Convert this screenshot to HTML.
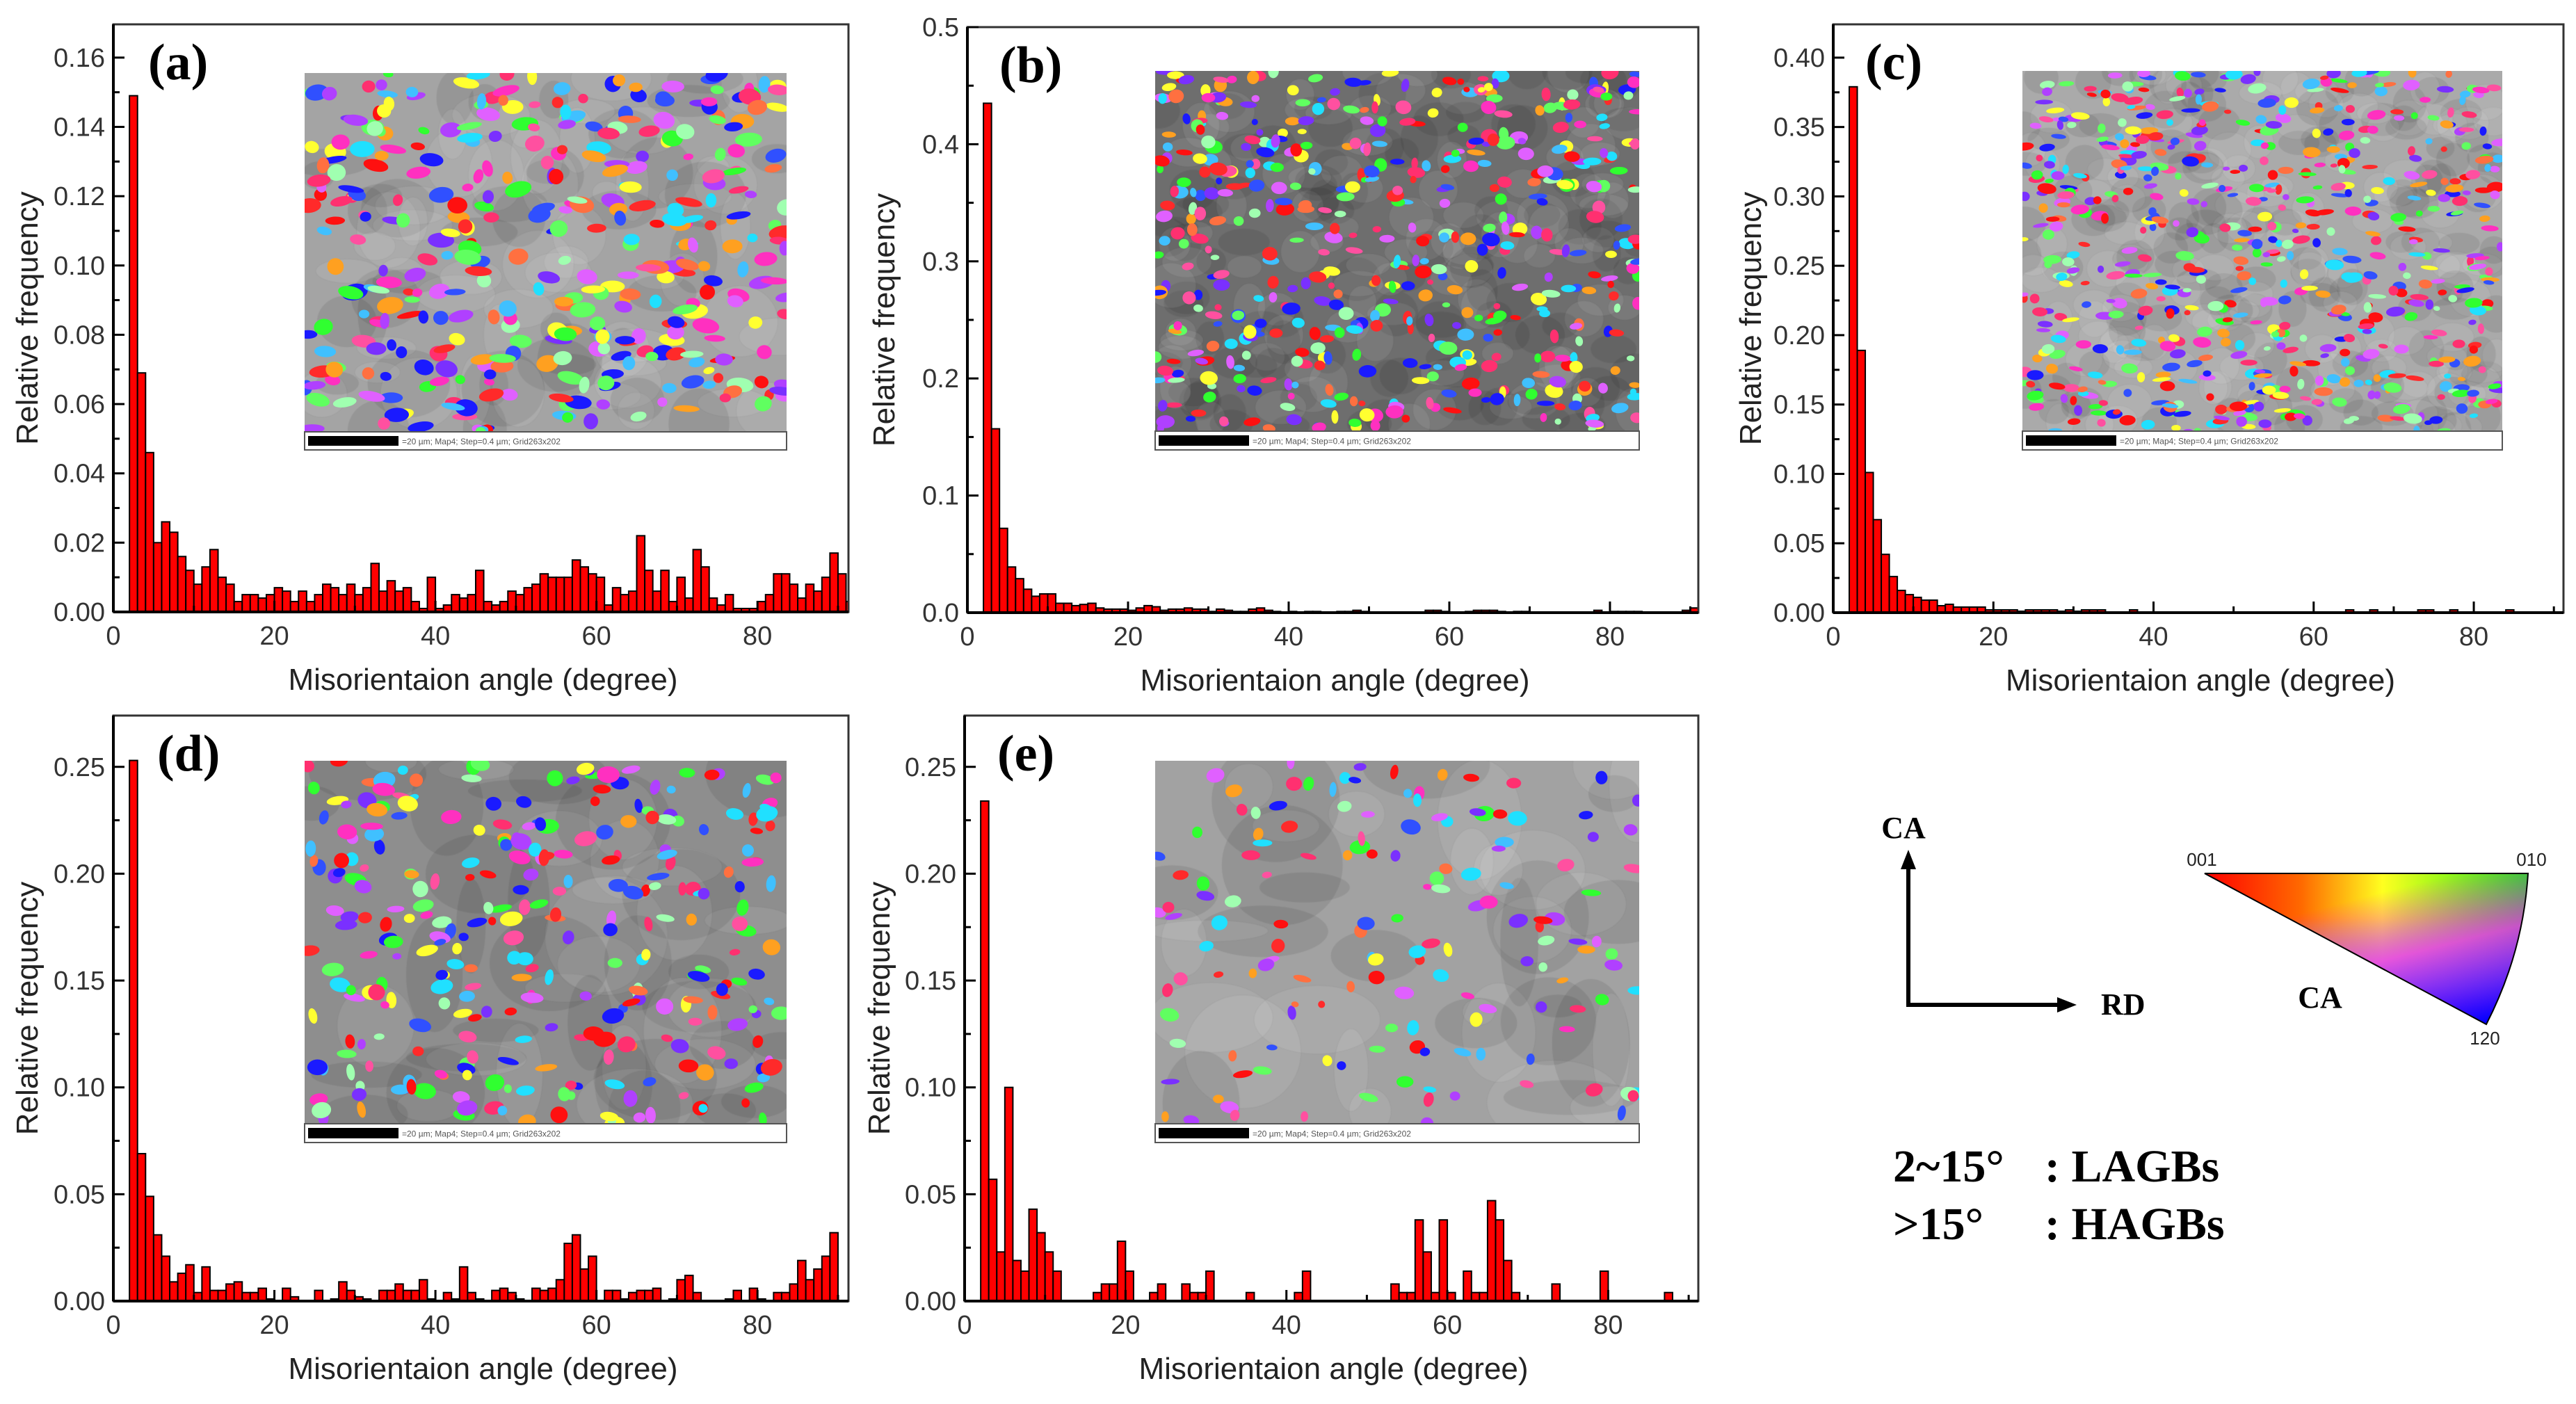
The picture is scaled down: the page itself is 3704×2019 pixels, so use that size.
<!DOCTYPE html>
<html><head><meta charset="utf-8"><style>
html,body{margin:0;padding:0;background:#fff;}
svg{display:block;}
</style></head><body>
<svg id="fig" width="3704" height="2019" viewBox="0 0 3704 2019" xmlns="http://www.w3.org/2000/svg">
<defs>
<linearGradient id="triBase" x1="0" y1="0" x2="1" y2="0">
<stop offset="0" stop-color="#ff0000"/><stop offset="0.3" stop-color="#ff6a00"/><stop offset="0.55" stop-color="#ffff20"/><stop offset="1" stop-color="#10f010"/>
</linearGradient>
<linearGradient id="triOver" x1="0.3" y1="0" x2="0.85" y2="1">
<stop offset="0.2" stop-color="#ff00ff" stop-opacity="0"/><stop offset="0.55" stop-color="#ff20ff" stop-opacity="0.75"/><stop offset="1" stop-color="#0000ff" stop-opacity="1"/>
</linearGradient>
<linearGradient id="triCyan" x1="0" y1="0" x2="0" y2="1">
<stop offset="0.3" stop-color="#00ffff" stop-opacity="0"/><stop offset="0.75" stop-color="#00e0ff" stop-opacity="0.6"/><stop offset="1" stop-color="#0000ff" stop-opacity="0.9"/>
</linearGradient>
</defs>
<g id="panels"></g>
<g id="legend">
<text x="2737" y="1205" font-family="Liberation Serif, serif" font-weight="bold" font-size="44" text-anchor="middle">CA</text>
<line x1="2744" y1="1445" x2="2744" y2="1240" stroke="#000" stroke-width="6"/>
<polygon points="2744,1222 2733,1250 2755,1250" fill="#000"/>
<line x1="2741" y1="1445" x2="2966" y2="1445" stroke="#000" stroke-width="6"/>
<polygon points="2986,1445 2958,1434 2958,1456" fill="#000"/>
<text x="3021" y="1459" font-family="Liberation Serif, serif" font-weight="bold" font-size="44">RD</text>
<g>
<path d="M3170,1256 L3635,1256 Q3628,1370 3575,1473 Z" fill="url(#triBase)"/>
<path d="M3170,1256 L3635,1256 Q3628,1370 3575,1473 Z" fill="url(#triCyan)"/>
<path d="M3170,1256 L3635,1256 Q3628,1370 3575,1473 Z" fill="url(#triOver)"/>
<path d="M3170,1256 L3635,1256 Q3628,1370 3575,1473 Z" fill="none" stroke="#000" stroke-width="2"/>
</g>
<text x="3166" y="1245" font-family="Liberation Sans, sans-serif" font-size="26" text-anchor="middle" fill="#222">001</text>
<text x="3640" y="1245" font-family="Liberation Sans, sans-serif" font-size="26" text-anchor="middle" fill="#222">010</text>
<text x="3573" y="1502" font-family="Liberation Sans, sans-serif" font-size="26" text-anchor="middle" fill="#222">120</text>
<text x="3336" y="1449" font-family="Liberation Serif, serif" font-weight="bold" font-size="44" text-anchor="middle">CA</text>
<text x="2722" y="1699" font-family="Liberation Serif, serif" font-weight="bold" font-size="66">2~15°</text>
<text x="2940" y="1699" font-family="Liberation Serif, serif" font-weight="bold" font-size="66">: LAGBs</text>
<text x="2722" y="1782" font-family="Liberation Serif, serif" font-weight="bold" font-size="66">&gt;15°</text>
<text x="2940" y="1782" font-family="Liberation Serif, serif" font-weight="bold" font-size="66">: HAGBs</text>
</g>
</svg>
<script>
// Relative frequency per 1-degree bin, bins start at 2 deg (2..91)
const binStart = 2;
const xTicks = [0, 20, 40, 60, 80];
const freqA = [0.149,0.069,0.046,0.020,0.026,0.023,0.016,0.012,0.008,0.013,
0.018,0.010,0.008,0.003,0.005,0.005,0.004,0.005,0.007,0.006,
0.003,0.006,0.003,0.005,0.008,0.007,0.005,0.008,0.005,0.007,
0.014,0.006,0.009,0.006,0.007,0.003,0.001,0.010,0.001,0.002,
0.005,0.004,0.005,0.012,0.003,0.002,0.003,0.006,0.005,0.007,
0.008,0.011,0.010,0.010,0.010,0.015,0.013,0.011,0.010,0.002,
0.007,0.005,0.006,0.022,0.012,0.006,0.012,0.003,0.010,0.004,
0.018,0.013,0.004,0.002,0.005,0.001,0.001,0.001,0.003,0.005,
0.011,0.011,0.008,0.004,0.008,0.006,0.010,0.017,0.011,0.003];
const freqB = [0.435,0.157,0.072,0.039,0.029,0.020,0.014,0.016,0.016,0.008,
0.008,0.006,0.007,0.008,0.004,0.003,0.003,0.003,0.002,0.004,
0.006,0.005,0.002,0.003,0.003,0.004,0.003,0.003,0.001,0.003,
0.002,0.001,0.001,0.003,0.004,0.002,0.001,0,0.001,0,
0.001,0.001,0,0,0.001,0.001,0.002,0.001,0,0,
0,0,0,0,0,0.002,0.002,0.001,0,0,
0.001,0.002,0.002,0.002,0.001,0,0.001,0.001,0,0,
0,0,0,0,0,0,0.002,0,0.001,0.001,
0.001,0.001,0,0,0,0,0,0.002,0.004,0];
const freqC = [0.379,0.189,0.101,0.067,0.042,0.026,0.016,0.013,0.011,0.009,
0.009,0.005,0.006,0.004,0.004,0.004,0.004,0.002,0.002,0.002,
0.002,0.001,0.002,0.002,0.002,0.002,0.001,0.002,0.001,0.002,
0.002,0.002,0,0,0,0.002,0,0,0,0,
0,0,0,0,0,0,0,0,0,0,
0,0,0,0,0,0,0,0,0,0,
0,0,0.002,0,0,0.002,0,0,0,0,
0,0.002,0.002,0,0,0.002,0,0,0,0,
0,0,0.002,0,0,0,0,0,0,0];
const freqD = [0.253,0.069,0.049,0.031,0.021,0.009,0.013,0.017,0.004,0.016,
0.005,0.005,0.008,0.009,0.004,0.004,0.006,0.001,0,0.006,
0.002,0,0,0.005,0,0.001,0.009,0.005,0.002,0.001,
0,0.005,0.005,0.008,0.005,0.005,0.010,0.001,0,0.004,
0.001,0.016,0.004,0.001,0,0.005,0.006,0.004,0.001,0,
0.006,0.005,0.006,0.010,0.027,0.031,0.015,0.021,0,0.005,
0.005,0.001,0.004,0.005,0.005,0.006,0,0.001,0.010,0.012,
0.004,0,0,0,0.001,0.005,0,0.006,0.001,0,
0.004,0.004,0.008,0.019,0.010,0.015,0.021,0.032,0,0];
const freqE = [0.234,0.057,0.023,0.100,0.019,0.014,0.043,0.032,0.023,0.014,
0,0,0,0,0.004,0.008,0.008,0.028,0.014,0,
0,0.004,0.008,0,0,0.008,0.004,0.004,0.014,0,
0,0,0,0.004,0,0,0,0,0,0.004,
0.014,0,0,0,0,0,0,0,0,0,
0,0.008,0.004,0.004,0.038,0.023,0.004,0.038,0.004,0,
0.014,0.004,0.004,0.047,0.038,0.019,0.004,0,0,0,
0,0.008,0,0,0,0,0,0.014,0,0,
0,0,0,0,0,0.004,0,0,0,0];
const yTicksA = ["0.00","0.02","0.04","0.06","0.08","0.10","0.12","0.14","0.16"];
const yTicksB = ["0.0","0.1","0.2","0.3","0.4","0.5"];
const yTicksC = ["0.00","0.05","0.10","0.15","0.20","0.25","0.30","0.35","0.40"];
const yTicksD = ["0.00","0.05","0.10","0.15","0.20","0.25"];
const yTicksE = ["0.00","0.05","0.10","0.15","0.20","0.25"];

const NS = "http://www.w3.org/2000/svg";
function mk(parent, tag, attrs, text) {
  const el = document.createElementNS(NS, tag);
  for (const k in attrs) el.setAttribute(k, attrs[k]);
  if (text !== undefined) el.textContent = text;
  parent.appendChild(el);
  return el;
}
let seed = 12345;
function rnd() { seed = (seed * 1103515245 + 12345) % 2147483648; return seed / 2147483648; }
const blobColors = ["#ff1010","#ff2a2a","#1a1aff","#3050ff","#7a30ff","#b040ff","#ff30c0","#ff50a0","#30ff30","#60ff60","#20e0ff","#40c0ff","#ffa020","#ff7040","#ffff30","#e060ff","#ff3070","#a0ffb0"];

function drawPanel(cfg) {
  const root = document.getElementById("panels");
  const g = mk(root, "g", {});
  
  
  const L = cfg.left, R = cfg.right, T = cfg.top, B = cfg.bottom;
  const xmax = cfg.xmax, ymax = cfg.ymax;
  const xs = v => L + (v / xmax) * (R - L);
  const ys = v => B - (v / ymax) * (B - T);
  const ins = cfg.inset;
  const clipId = "clip" + cfg.id;
  const cp = mk(mk(g, "defs", {}), "clipPath", {id: clipId});
  mk(cp, "rect", {x: ins.x, y: ins.y, width: ins.w, height: ins.mh});
  const ig = mk(g, "g", {"clip-path": "url(#" + clipId + ")"});
  
  
  mk(ig, "rect", {x: ins.x, y: ins.y, width: ins.w, height: ins.mh, fill: ins.bg});
  seed = cfg.seed;
  for (let i = 0; i < ins.grains; i++) {
    mk(ig, "ellipse", {cx: ins.x + rnd() * ins.w, cy: ins.y + rnd() * ins.mh, rx: 20 + rnd() * ins.gsize, ry: 15 + rnd() * ins.gsize,
      fill: rnd() < 0.5 ? "#000" : "#fff", opacity: 0.08, stroke: "#333", "stroke-opacity": 0.3, "stroke-width": 2});
  }
  for (let i = 0; i < ins.n; i++) {
    const c = blobColors[Math.floor(rnd() * blobColors.length)];
    const rx = ins.r * (0.5 + rnd()), ry = ins.r * (0.4 + rnd() * 0.7);
    const cx = ins.x + rnd() * ins.w, cy = ins.y + rnd() * ins.mh;
    mk(ig, "ellipse", {cx: cx, cy: cy, rx: rx * (ins.stretchX || 1), ry: ry * (ins.stretchY || 1), fill: c,
      transform: "rotate(" + ((rnd() - 0.5) * (ins.rot || 40)) + " " + cx + " " + cy + ")"});
  }
  const cap = mk(g, "rect", {x: ins.x, y: ins.y + ins.mh, width: ins.w, height: ins.h - ins.mh, fill: "#fff", stroke: "#555", "stroke-width": 2});
  
  
  mk(g, "rect", {x: ins.x + 5, y: ins.y + ins.mh + 6, width: 130, height: ins.h - ins.mh - 12, fill: "#000"});
  mk(g, "text", {x: ins.x + 140, y: ins.y + ins.mh + (ins.h - ins.mh) / 2 + 5, "font-family": "Liberation Sans, sans-serif", "font-size": 12, fill: "#555"}, "=20 µm; Map4; Step=0.4 µm; Grid263x202");
  const bars = mk(g, "g", {});
  
  
  cfg.data.forEach((v, i) => {
    if (v <= 0) return;
    const a0 = binStart + i, a1 = Math.min(binStart + i + 1, xmax);
    if (a0 >= xmax) return;
    const r = mk(bars, "rect", {x: xs(a0), y: ys(v), width: xs(a1) - xs(a0), height: B - ys(v), fill: "#ff0000", stroke: "#000", "stroke-width": 2});
    
    
  });
  const fr = mk(g, "rect", {x: L, y: T, width: R - L, height: B - T, fill: "none", stroke: "#333", "stroke-width": 3});
  
  
  mk(g, "line", {x1: L, y1: B, x2: R, y2: B, stroke: "#000", "stroke-width": 4});
  mk(g, "line", {x1: L, y1: T, x2: L, y2: B, stroke: "#000", "stroke-width": 4});
  const yStep = parseFloat(cfg.yTicks[1]);
  cfg.yTicks.forEach(lbl => {
    const v = parseFloat(lbl), y = ys(v);
    mk(g, "line", {x1: L, y1: y, x2: L + 16, y2: y, stroke: "#000", "stroke-width": 3});
    const m = v + yStep / 2;
    if (m < ymax) mk(g, "line", {x1: L, y1: ys(m), x2: L + 9, y2: ys(m), stroke: "#000", "stroke-width": 3});
    const t = mk(g, "text", {x: L - 12, y: y + 13, "text-anchor": "end", "font-family": "Liberation Sans, sans-serif", "font-size": 38, fill: "#333"}, lbl);
    
    
  });
  xTicks.forEach(v => {
    const x = xs(v);
    mk(g, "line", {x1: x, y1: B, x2: x, y2: B - 16, stroke: "#000", "stroke-width": 3});
    if (v + 10 < xmax) mk(g, "line", {x1: xs(v + 10), y1: B, x2: xs(v + 10), y2: B - 9, stroke: "#000", "stroke-width": 3});
    const t = mk(g, "text", {x: x, y: B + 47, "text-anchor": "middle", "font-family": "Liberation Sans, sans-serif", "font-size": 38, fill: "#333"}, String(v));
    
    
  });
  const yt = mk(g, "text", {x: 0, y: 0, transform: "translate(" + (cfg.ytX) + "," + ((T + B) / 2) + ") rotate(-90)", "text-anchor": "middle", "font-family": "Liberation Sans, sans-serif", "font-size": 44, fill: "#222"}, "Relative frequency");
  
  
  const xt = mk(g, "text", {x: (L + R) / 2 + 3, y: B + 112, "text-anchor": "middle", "font-family": "Liberation Sans, sans-serif", "font-size": 44, fill: "#222"}, "Misorientaion angle (degree)");
  
  
  const pl = mk(g, "text", {x: cfg.lblX, y: T + 79, "font-family": "Liberation Serif, serif", "font-weight": "bold", "font-size": 74, fill: "#000"}, "(" + cfg.id + ")");
  
  
}

drawPanel({id: "a", left: 163, right: 1220, top: 35, bottom: 880, xmax: 91.3, ymax: 0.1696, data: freqA, yTicks: yTicksA, ytX: 54, lblX: 213, seed: 11,
  inset: {x: 438, y: 105, w: 693, h: 542, mh: 516, bg: "#a4a4a4", n: 380, r: 11, grains: 90, gsize: 40, stretchX: 1.2, rot: 30}});
drawPanel({id: "b", left: 1391, right: 2442, top: 39, bottom: 881, xmax: 91, ymax: 0.5, data: freqB, yTicks: yTicksB, ytX: 1286, lblX: 1437, seed: 22,
  inset: {x: 1661, y: 102, w: 696, h: 545, mh: 518, bg: "#6e6e6e", n: 520, r: 9, grains: 200, gsize: 18, rot: 20}});
drawPanel({id: "c", left: 2636, right: 3686, top: 35, bottom: 881, xmax: 91.2, ymax: 0.424, data: freqC, yTicks: yTicksC, ytX: 2532, lblX: 2682, seed: 33,
  inset: {x: 2908, y: 102, w: 690, h: 545, mh: 518, bg: "#aaa", n: 680, r: 7, grains: 260, gsize: 12, stretchX: 1.3, rot: 20}});
drawPanel({id: "d", left: 163, right: 1220, top: 1029, bottom: 1871, xmax: 91.3, ymax: 0.274, data: freqD, yTicks: yTicksD, ytX: 54, lblX: 226, seed: 44,
  inset: {x: 438, y: 1094, w: 693, h: 549, mh: 522, bg: "#8e8e8e", n: 300, r: 11, grains: 50, gsize: 70, rot: 30}});
drawPanel({id: "e", left: 1387, right: 2442, top: 1029, bottom: 1871, xmax: 91.2, ymax: 0.274, data: freqE, yTicks: yTicksE, ytX: 1279, lblX: 1434, seed: 55,
  inset: {x: 1661, y: 1094, w: 696, h: 549, mh: 522, bg: "#a2a2a2", n: 150, r: 10, grains: 40, gsize: 80, rot: 30}});
</script>
</body></html>
